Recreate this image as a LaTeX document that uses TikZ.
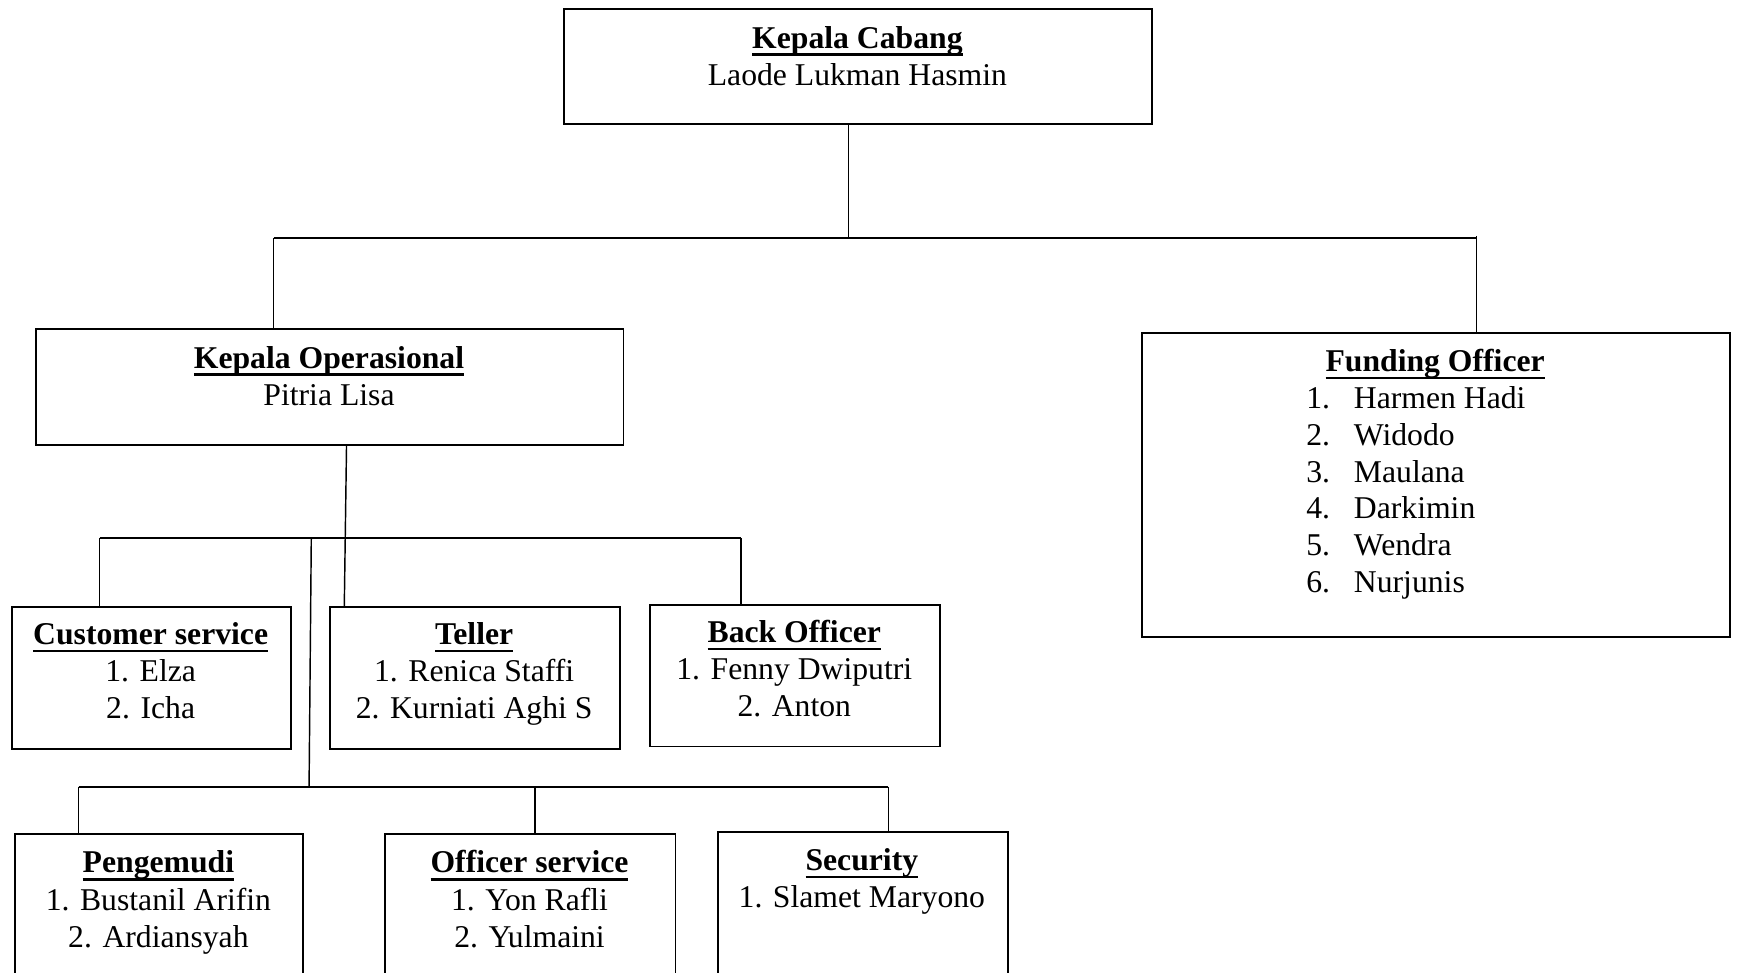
\documentclass[tikz,border=0pt]{standalone}
\usepackage{fontspec}
\setmainfont{Liberation Serif}
\newcommand\ulbf[1]{\setbox0\hbox{\bfseries #1}\leavevmode\rlap{\rule[-7pt]{\wd0}{2.4pt}}\box0}
\begin{document}
\begin{tikzpicture}[x=1pt,y=-1pt,
  box/.style={draw, line width=1.6pt, inner sep=0pt, anchor=north west},
  txt/.style={inner sep=0pt, anchor=base, font=\fontsize{28.6}{33.5}\selectfont},
  lt/.style={txt, anchor=base west},
  conn/.style={line width=1.3pt},
  hconn/.style={line width=1.8pt}]
\useasboundingbox (0,0) rectangle (1568,878);
\clip (0,0) rectangle (1568,878);

% boxes
\node[box, minimum width=531pt, minimum height=104pt] (kc) at (508,7) {};
\node[box, minimum width=530pt, minimum height=105pt] (ko) at (32,296) {};
\node[box, minimum width=531pt, minimum height=274pt] (fo) at (1030,300) {};
\node[box, minimum width=252pt, minimum height=128pt] (cs) at (10,547) {};
\node[box, minimum width=262pt, minimum height=128pt] (te) at (297,547) {};
\node[box, minimum width=262pt, minimum height=128pt] (bo) at (586,545) {};
\node[box, minimum width=260pt, minimum height=170pt] (pe) at (13,752) {};
\node[box, minimum width=262pt, minimum height=170pt] (os) at (347,752) {};
\node[box, minimum width=262pt, minimum height=170pt] (se) at (647,750) {};

% texts
\node[txt] (kct) at (774,43.5) {\ulbf{Kepala Cabang}};
\node[txt] (kcn) at (774,77) {Laode Lukman Hasmin};

\node[txt] (kot) at (297,332.5) {\ulbf{Kepala Operasional}};
\node[txt] (kon) at (297,366) {Pitria Lisa};

\node[txt] (fot) at (1295.5,335.5) {\ulbf{Funding Officer}};
\node[lt] (f1n) at (1179,368.7) {1.};
\node[lt] (f1) at (1222,368.7) {Harmen Hadi};
\node[lt] (f2n) at (1179,401.9) {2.};
\node[lt] (f2) at (1222,401.9) {Widodo};
\node[lt] (f3n) at (1179,435.1) {3.};
\node[lt] (f3) at (1222,435.1) {Maulana};
\node[lt] (f4n) at (1179,468.3) {4.};
\node[lt] (f4) at (1222,468.3) {Darkimin};
\node[lt] (f5n) at (1179,501.5) {5.};
\node[lt] (f5) at (1222,501.5) {Wendra};
\node[lt] (f6n) at (1179,534.7) {6.};
\node[lt] (f6) at (1222,534.7) {Nurjunis};

\node[txt] (cst) at (136,582) {\ulbf{Customer service}};
\node[txt] (cs1) at (136,615.5) {1. Elza};
\node[txt] (cs2) at (136,649) {2. Icha};

\node[txt] (tet) at (428,582) {\ulbf{Teller}};
\node[txt] (te1) at (428,615.5) {1. Renica Staffi};
\node[txt] (te2) at (428,649) {2. Kurniati Aghi S};

\node[txt] (bot) at (717,580) {\ulbf{Back Officer}};
\node[txt] (bo1) at (717,613.5) {1. Fenny Dwiputri};
\node[txt] (bo2) at (717,647) {2. Anton};

\node[txt] (pet) at (143,788) {\ulbf{Pengemudi}};
\node[txt] (pe1) at (143,821.5) {1. Bustanil Arifin};
\node[txt] (pe2) at (143,855) {2. Ardiansyah};

\node[txt] (ost) at (478,788) {\ulbf{Officer service}};
\node[txt] (os1) at (478,821.5) {1. Yon Rafli};
\node[txt] (os2) at (478,855) {2. Yulmaini};

\node[txt] (set) at (778,786) {\ulbf{Security}};
\node[txt] (se1) at (778,819.5) {1. Slamet Maryono};

% connectors
\coordinate (a1) at (766,215);
\coordinate (a2) at (247,215);
\coordinate (a3) at (1333,215);
\draw[conn] (kc.south -| a1) -- (a1);
\draw[hconn] (a2) -- (a3);
\draw[conn] (a2) -- (a2 |- ko.north);
\draw[conn] ([yshift=2pt]a3) -- (a3 |- fo.north);

\coordinate (b1) at (90,486);
\coordinate (b2) at (669,486);
\coordinate (b3) at (281,486);
\draw[conn] ([xshift=15pt]ko.south) -- ([xshift=-118pt]te.north);
\draw[hconn] (b1) -- (b2);
\draw[conn] (b1) -- (b1 |- cs.north);
\draw[conn] (b2) -- (b2 |- bo.north);

\coordinate (c0) at (279,710);
\coordinate (c1) at (71,710);
\coordinate (c2) at (483,710);
\coordinate (c3) at (802,710);
\draw[conn] (b3) -- (c0);
\draw[hconn] (c1) -- (c3);
\draw[conn] (c1) -- (c1 |- pe.north);
\draw[conn] (c2) -- (c2 |- os.north);
\draw[conn] (c3) -- (c3 |- se.north);
\end{tikzpicture}
\end{document}
